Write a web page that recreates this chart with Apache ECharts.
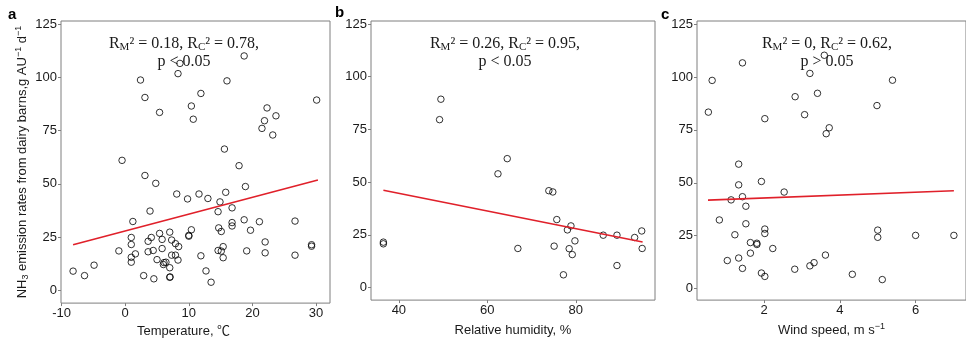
<!DOCTYPE html>
<html>
<head>
<meta charset="utf-8">
<script src="https://cdn.jsdelivr.net/npm/echarts@6/dist/echarts.min.js"></script>
<style>
html,body{margin:0;padding:0;background:#fff;}
#chart{width:966px;height:343px;}
</style>
</head>
<body>
<div id="chart"></div>
<script>
// ---- Panel a: temperature vs NH3 emission rate ----
const temperature = [
  -8.2, -6.4, -4.9, -1.0, -0.5, 1.2, 0.95, 0.95, 0.95, 0.95,
  1.6, 3.1, 2.9, 3.9, 3.6, 4.1, 3.6, 4.4, 4.5, 4.8,
  5.0, 5.4, 5.8, 5.8, 6.1, 6.0, 6.4, 7.0, 7.0, 7.0,
  7.05, 7.3, 7.3, 7.9, 7.9, 8.4, 8.3, 8.1, 9.8, 10.0,
  10.0, 10.4, 11.9, 11.6, 13.0, 12.7, 13.5, 14.6, 14.7, 14.6,
  14.9, 15.1, 15.1, 15.4, 15.4, 15.6, 15.8, 16.8, 16.8, 16.8,
  17.9, 18.7, 18.9, 19.1, 19.7, 21.1, 22.0, 22.0, 26.7, 26.7,
  29.3, 29.3, 18.7, 8.6, 2.4, 8.3, 16.0, 11.9, 3.1, 10.4,
  5.4, 10.7, 22.3, 23.7, 21.9, 21.5, 23.2, 30.1
];
const rateTemp = [
  9.0, 6.9, 11.8, 18.5, 61.0, 32.3, 24.8, 21.5, 15.5, 13.2,
  17.1, 53.9, 6.9, 37.2, 23.0, 24.8, 18.1, 18.7, 5.4, 50.2,
  14.4, 26.7, 23.9, 19.6, 13.0, 12.1, 13.2, 27.3, 10.6, 6.1,
  6.3, 23.6, 16.5, 16.5, 21.9, 20.5, 14.2, 45.2, 42.9, 25.4,
  25.8, 28.4, 16.2, 45.2, 43.1, 9.1, 3.8, 18.7, 29.3, 36.9,
  41.5, 27.6, 18.4, 20.5, 15.3, 66.3, 46.0, 38.7, 31.8, 30.2,
  58.5, 33.1, 48.7, 18.5, 28.2, 32.2, 22.7, 17.6, 32.5, 16.5,
  20.7, 21.4, 110.0, 106.5, 98.7, 101.7, 98.3, 92.4, 90.5, 86.5,
  83.5, 80.3, 85.6, 81.9, 79.6, 76.0, 72.9, 89.3
];
const fitTempX = [-8.2, 30.3];
const fitTempY = [21.4, 51.8];

// ---- Panel b: relative humidity ----
const humidity = [49.5, 49.2, 62.4, 64.5, 66.9, 73.9, 74.8, 75.1, 75.7, 77.2,
  78.1, 78.5, 78.9, 79.2, 79.8, 86.2, 89.3, 89.3, 93.3, 94.9, 95.0, 36.5, 36.5];
const rateHum = [89.3, 79.6, 53.9, 61.1, 18.5, 45.9, 45.3, 19.6, 32.2, 6.0,
  27.3, 18.4, 29.2, 15.6, 22.1, 24.8, 24.8, 10.4, 23.7, 26.8, 18.5, 20.7, 21.5];
const fitHumX = [36.5, 95.1];
const fitHumY = [46.1, 21.6];

// ---- Panel c: wind speed ----
const wind = [0.53, 0.63, 1.43, 2.02, 2.82, 3.21, 3.59, 3.41, 3.07, 3.64,
  3.72, 4.98, 5.39, 1.33, 1.33, 1.93, 2.53, 1.13, 1.43, 1.52,
  0.82, 1.52, 1.23, 2.02, 2.02, 1.64, 1.81, 1.81, 2.23, 1.64,
  1.03, 1.33, 1.43, 1.93, 2.02, 2.81, 3.21, 3.32, 3.62, 4.33,
  5.12, 5.0, 5.0, 6.0, 7.01];
const rateWind = [83.4, 98.4, 106.7, 80.3, 90.7, 101.7, 110.3, 92.3, 82.2, 73.2,
  76.0, 86.5, 98.5, 58.8, 49.0, 50.6, 45.6, 41.9, 43.4, 38.9,
  32.4, 30.6, 25.4, 28.1, 26.0, 21.7, 20.8, 21.4, 18.9, 16.7,
  13.2, 14.4, 9.5, 7.3, 5.7, 9.1, 10.7, 12.2, 15.8, 6.7,
  4.2, 27.6, 24.2, 25.1, 25.1];
const fitWindX = [0.52, 7.01];
const fitWindY = [41.8, 46.2];

// ---- tick labels ----
const yTicks = [0, 25, 50, 75, 100, 125];
const tempTicks = [-10, 0, 10, 20, 30];
const humTicks = [40, 60, 80];
const windTicks = [2, 4, 6];

const zip = (a, b) => a.map((v, i) => [v, b[i]]);

const SANS = 'Liberation Sans, Arial, Noto Sans CJK SC, sans-serif';
const SERIF = 'Liberation Serif, Times New Roman, serif';
const GRAY = '#7f7f7f';
const TXT = '#1a1a1a';
const RED = '#e0202a';

function xAxisFor(idx, min, max, ticks, name, extra) {
  return Object.assign({
    gridIndex: idx, type: 'value', min: min, max: max, position: 'bottom',
    axisLine: {show: false, onZero: false},
    splitLine: {show: false},
    axisTick: {show: true, length: 3, customValues: ticks, lineStyle: {color: GRAY, width: 1}},
    axisLabel: {customValues: ticks, margin: 4, fontSize: 13, fontFamily: SANS, color: TXT},
    name: name, nameLocation: 'middle', nameGap: 17,
    nameTextStyle: {fontSize: 13, fontFamily: SANS, color: TXT, lineHeight: 16,
      rich: {sup: {fontSize: 9, lineHeight: 8, verticalAlign: 'top', fontFamily: SANS, color: TXT}}}
  }, extra || {});
}
function yAxisFor(idx, min, max, extra) {
  return Object.assign({
    gridIndex: idx, type: 'value', min: min, max: max, position: 'left',
    axisLine: {show: false, onZero: false},
    splitLine: {show: false},
    axisTick: {show: true, length: 3, customValues: yTicks, lineStyle: {color: GRAY, width: 1}},
    axisLabel: {customValues: yTicks, margin: 4, fontSize: 13, fontFamily: SANS, color: TXT}
  }, extra || {});
}

function scatter(idx, xs, ys) {
  return {
    type: 'scatter', xAxisIndex: idx, yAxisIndex: idx, data: zip(xs, ys),
    symbol: 'circle', symbolSize: 6.5, z: 3,
    itemStyle: {color: 'rgba(0,0,0,0)', borderColor: '#000', borderWidth: 1},
    emphasis: {disabled: true}, silent: true
  };
}
function fit(idx, xs, ys) {
  return {
    type: 'line', xAxisIndex: idx, yAxisIndex: idx, data: zip(xs, ys),
    symbol: 'none', z: 4, silent: true,
    lineStyle: {color: RED, width: 1.6}
  };
}

const annRich = {
  m: {fontSize: 16, fontFamily: SERIF, color: TXT, lineHeight: 18},
  sub: {fontSize: 11, fontFamily: SERIF, color: TXT, lineHeight: 7, verticalAlign: 'bottom'}
};
function ann(cx, top, r1, r2, p) {
  return {
    type: 'text', x: cx, y: top, z: 1, silent: true,
    style: {
      text: '{m|R}{sub|M}{m|\u00b2 = ' + r1 + ', R}{sub|C}{m|\u00b2 = ' + r2 + ',}\n{m|' + p + '}',
      rich: annRich, align: 'center', textAlign: 'center', verticalAlign: 'top', textVerticalAlign: 'top',
      fontSize: 16, fontFamily: SERIF, fill: TXT, lineHeight: 18
    }
  };
}
function panelLabel(x, y, t) {
  return {
    type: 'text', x: x, y: y, z: 1, silent: true,
    style: {text: t, fontSize: 15, fontWeight: 'bold', fontFamily: SANS, fill: '#000',
      align: 'left', textAlign: 'left', verticalAlign: 'top', textVerticalAlign: 'top'}
  };
}

const chart = echarts.init(document.getElementById('chart'), null, {renderer: 'canvas'});
chart.setOption({
  animation: false,
  backgroundColor: '#fff',
  grid: [
    {left: 61, top: 21, width: 269, height: 288, show: true, borderColor: GRAY, borderWidth: 1, backgroundColor: 'rgba(0,0,0,0)'},
    {left: 371, top: 21, width: 284, height: 288, show: true, borderColor: GRAY, borderWidth: 1, backgroundColor: 'rgba(0,0,0,0)'},
    {left: 697, top: 21, width: 273, height: 283, show: true, borderColor: GRAY, borderWidth: 1, backgroundColor: 'rgba(0,0,0,0)'}
  ],
  xAxis: [
    xAxisFor(0, -10.1, 32.2, tempTicks, 'Temperature, \u2103', {nameTextStyle: {fontSize: 13, fontFamily: SANS, color: TXT, padding: [0, 24, 0, 0]}}),
    xAxisFor(1, 33.7, 97.9, humTicks, 'Relative humidity, %'),
    xAxisFor(2, 0.23, 7.33, windTicks, 'Wind speed, m s{sup|\u22121}', {nameGap: 19})
  ],
  yAxis: [
    yAxisFor(0, -6, 126.4, {
      name: 'NH{sub|3} emission rates from dairy barns,g AU{sup|\u22121} d{sup|\u22121}',
      nameLocation: 'middle', nameGap: 31,
      nameTextStyle: {fontSize: 13, fontFamily: SANS, color: TXT, lineHeight: 16,
        rich: {
          sub: {fontSize: 9, lineHeight: 8, verticalAlign: 'bottom', fontFamily: SANS, color: TXT},
          sup: {fontSize: 9, lineHeight: 8, verticalAlign: 'top', fontFamily: SANS, color: TXT}
        }}
    }),
    yAxisFor(1, -6, 126.4),
    yAxisFor(2, -5.5, 126.5)
  ],
  series: [
    scatter(0, temperature, rateTemp), fit(0, fitTempX, fitTempY),
    scatter(1, humidity, rateHum), fit(1, fitHumX, fitHumY),
    scatter(2, wind, rateWind), fit(2, fitWindX, fitWindY)
  ],
  graphic: [
    ann(184, 35, '0.18', '0.78', 'p < 0.05'),
    ann(505, 35, '0.26', '0.95', 'p < 0.05'),
    ann(827, 35, '0', '0.62', 'p > 0.05'),
    panelLabel(8, 7, 'a'),
    panelLabel(335, 5, 'b'),
    panelLabel(661, 7, 'c')
  ]
});
</script>
</body>
</html>
